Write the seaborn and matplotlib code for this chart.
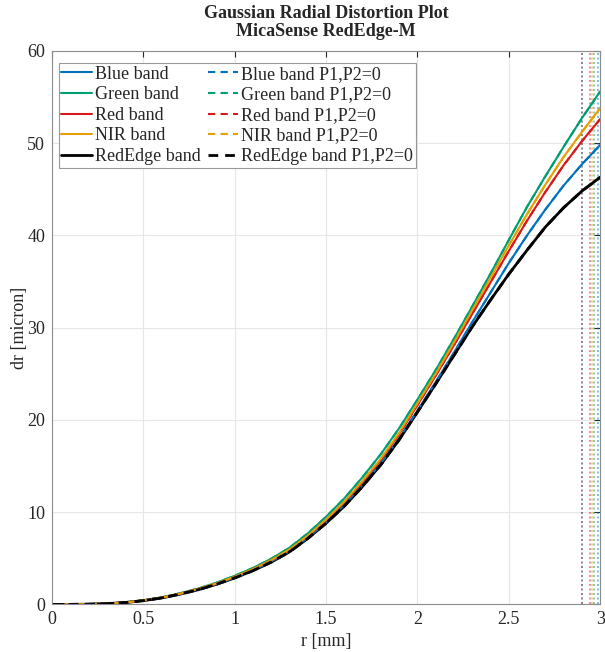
import matplotlib
matplotlib.use("Agg")
import matplotlib.pyplot as plt
import numpy as np
import pandas as pd
import seaborn as sns

# radial distance [mm] and radial distortion dr [micron] per band
r_mm = np.linspace(0, 3, 31)
bands = ["Blue", "Green", "Red", "NIR", "RedEdge"]
colors = ["#0072BD", "#009E73", "#D7191C", "#E69F00", "#000000"]

dr_blue = [0, 0.003, 0.023, 0.084, 0.2, 0.41, 0.71, 1.12, 1.62, 2.2, 2.9, 3.7, 4.64, 5.78, 7.23, 8.9,
           10.8, 12.95, 15.3, 18.0, 21.0, 24.1, 27.3, 30.6, 33.8, 37.0, 40.0, 42.8, 45.4, 47.7, 49.8]
dr_green = [0, 0.003, 0.025, 0.09, 0.22, 0.44, 0.76, 1.2, 1.72, 2.35, 3.1, 3.95, 4.95, 6.15, 7.7, 9.5,
            11.5, 13.8, 16.3, 19.1, 22.2, 25.4, 28.8, 32.3, 35.85, 39.5, 43.1, 46.4, 49.6, 52.7, 55.6]
dr_red = [0, 0.003, 0.024, 0.086, 0.21, 0.42, 0.73, 1.15, 1.66, 2.26, 2.98, 3.8, 4.76, 5.92, 7.4, 9.1,
          11.05, 13.25, 15.65, 18.45, 21.6, 24.8, 28.1, 31.5, 34.9, 38.3, 41.6, 44.7, 47.6, 50.2, 52.6]
dr_nir = [0, 0.003, 0.024, 0.087, 0.21, 0.43, 0.74, 1.16, 1.67, 2.28, 3.0, 3.83, 4.8, 5.97, 7.45, 9.2,
          11.15, 13.4, 15.8, 18.6, 21.8, 25.0, 28.4, 31.9, 35.4, 38.9, 42.3, 45.5, 48.5, 51.2, 53.8]
dr_rededge = [0, 0.003, 0.023, 0.083, 0.2, 0.41, 0.7, 1.11, 1.59, 2.18, 2.87, 3.66, 4.58, 5.7, 7.15, 8.8,
              10.65, 12.8, 15.15, 17.85, 20.85, 23.9, 27.0, 30.1, 33.0, 35.8, 38.4, 40.9, 43.0, 44.8, 46.3]

# image edge radius [mm] per band (dotted vertical lines)
r_edge = [2.99, 2.965, 2.945, 2.955, 2.90]

all_dr = [dr_blue, dr_green, dr_red, dr_nir, dr_rededge]

sns.set_style("whitegrid")
plt.rcParams['font.family'] = ['Liberation Serif', 'DejaVu Serif']

fig = plt.figure(figsize=(6.05, 6.52), dpi=100)
ax = fig.add_axes([0.086, 0.073, 0.906, 0.849])

# solid lines (full model)
for b, c, d in zip(bands, colors, all_dr):
    df = pd.DataFrame({"r": r_mm, "dr": d})
    lw = 2.0 if b == "RedEdge" else 1.5
    sns.lineplot(data=df, x="r", y="dr", color=c, lw=lw, label=b + " band", ax=ax)

# dashed lines (P1,P2=0)
for b, c, d in zip(bands, colors, all_dr):
    df = pd.DataFrame({"r": r_mm, "dr": d})
    lw = 2.0 if b == "RedEdge" else 1.5
    sns.lineplot(data=df, x="r", y="dr", color=c, lw=lw, linestyle=(0, (3.5, 2.5)),
                 label=b + " band P1,P2=0", ax=ax)

for c, re in zip(colors, r_edge):
    ax.axvline(re, color=c, lw=1.2, linestyle=(0, (1.2, 1.5)), alpha=0.55, zorder=1)

ax.set_xlim(0, 3)
ax.set_ylim(0, 60)
ax.set_xticks([0, 0.5, 1, 1.5, 2, 2.5, 3])
ax.set_xticklabels(["0", "0.5", "1", "1.5", "2", "2.5", "3"])
ax.set_yticks(range(0, 61, 10))
ax.tick_params(direction="in", top=True, right=True, length=4, width=0.8,
               colors="#262626", labelsize=13, pad=5)
ax.grid(True, color="#e6e6e6", lw=0.8)
for s in ax.spines.values():
    s.set_visible(True)
    s.set_color("#8c8c8c")
    s.set_linewidth(0.8)

ax.set_xlabel("r [mm]", fontsize=13, labelpad=3)
ax.set_ylabel("dr [micron]", fontsize=13, labelpad=-1)
ax.set_title("Gaussian Radial Distortion Plot\nMicaSense RedEdge-M", fontsize=13,
             fontweight="bold", pad=11, linespacing=1.05)

leg = ax.legend(ncol=2, loc="upper left", bbox_to_anchor=(0.002, 0.988), fontsize=13,
                handlelength=1.7, handletextpad=0.15, columnspacing=0.4, labelspacing=0.2,
                borderpad=0.15, borderaxespad=0.3, fancybox=False, framealpha=1)
leg.get_frame().set_edgecolor("#999999")
leg.get_frame().set_linewidth(0.8)

fig.savefig("out.png", dpi=100)
